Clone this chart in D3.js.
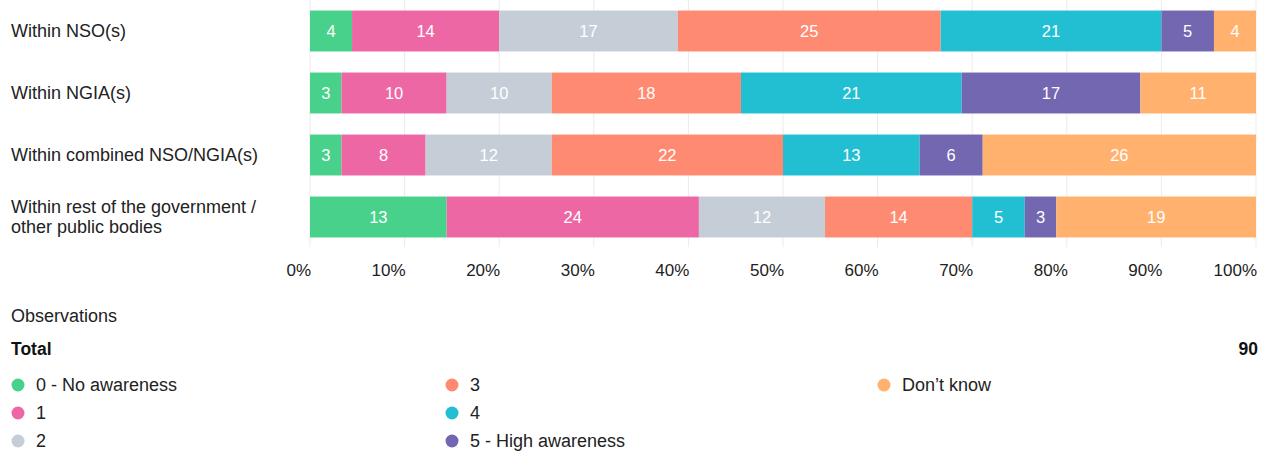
<!DOCTYPE html>
<html>
<head>
<meta charset="utf-8">
<script src="https://cdn.jsdelivr.net/npm/d3@7"></script>
<style>
  body { margin: 0; background: #fff; }
  svg { font-family: "Liberation Sans", Arial, sans-serif; }
</style>
</head>
<body>
<svg id="chart" width="1265" height="453"></svg>
<script>
const categories = [
  ["Within NSO(s)"],
  ["Within NGIA(s)"],
  ["Within combined NSO/NGIA(s)"],
  ["Within rest of the government /", "other public bodies"]
];
const seriesNames = ["0 - No awareness", "1", "2", "3", "4", "5 - High awareness", "Don\u2019t know"];
const seriesColors = ["#47d18b", "#ee67a5", "#c5ced7", "#ff8a72", "#22bfd3", "#7267b0", "#ffb16d"];
// counts per category, one array per series
const s0 = [4, 3, 3, 13];
const s1 = [14, 10, 8, 24];
const s2 = [17, 10, 12, 12];
const s3 = [25, 18, 22, 14];
const s4 = [21, 21, 13, 5];
const s5 = [5, 17, 6, 3];
const sDK = [4, 11, 26, 19];
const tickValues = [0, 0.1, 0.2, 0.3, 0.4, 0.5, 0.6, 0.7, 0.8, 0.9, 1];
const totalObs = 90;

const series = [s0, s1, s2, s3, s4, s5, sDK];
const margin = { left: 310, right: 9 };
const width = 1265;

const svg = d3.select("#chart");

const x = d3.scaleLinear().domain([0, 1]).range([margin.left, width - margin.right]);
const y = d3.scaleBand().domain(d3.range(categories.length)).range([0, 248]).paddingInner(0.34).paddingOuter(0.17);

// rows as objects keyed by series index
const rows = categories.map((c, i) => {
  const r = { i };
  series.forEach((s, k) => r[k] = s[i]);
  return r;
});
const stack = d3.stack().keys(d3.range(series.length)).offset(d3.stackOffsetExpand);
const layers = stack(rows);

// gridlines
svg.append("g")
  .selectAll("line")
  .data(tickValues)
  .join("line")
  .attr("x1", d => x(d)).attr("x2", d => x(d))
  .attr("y1", 0).attr("y2", 247)
  .attr("stroke", "#ebebeb")
  .attr("stroke-width", 1);

// axis labels
svg.append("g")
  .selectAll("text")
  .data(tickValues)
  .join("text")
  .attr("x", d => x(d) + 1)
  .attr("y", 270)
  .attr("text-anchor", "end")
  .attr("dominant-baseline", "central")
  .attr("font-size", 17)
  .attr("fill", "#222")
  .text(d3.format(".0%"));

// category labels
svg.append("g")
  .selectAll("text")
  .data(categories)
  .join("text")
  .attr("x", 11)
  .attr("y", (d, i) => y(i) + y.bandwidth() / 2)
  .attr("font-size", 18)
  .attr("fill", "#222")
  .each(function (d) {
    const t = d3.select(this);
    d.forEach((line, j) => {
      t.append("tspan")
        .attr("x", 11)
        .attr("dy", j === 0 ? `${0.35 - (d.length - 1) * 0.56}em` : "1.12em")
        .text(line);
    });
  });

// bars
const g = svg.append("g")
  .selectAll("g")
  .data(layers)
  .join("g")
  .attr("fill", (d, k) => seriesColors[k]);

g.selectAll("rect")
  .data(d => d)
  .join("rect")
  .attr("x", d => x(d[0]))
  .attr("width", d => x(d[1]) - x(d[0]))
  .attr("y", d => y(d.data.i))
  .attr("height", y.bandwidth());

g.selectAll("text")
  .data(d => d.map(v => ({ v, k: d.key })))
  .join("text")
  .attr("x", d => (x(d.v[0]) + x(d.v[1])) / 2)
  .attr("y", d => y(d.v.data.i) + y.bandwidth() / 2)
  .attr("text-anchor", "middle")
  .attr("dominant-baseline", "central")
  .attr("font-size", 16.5)
  .attr("fill", "#fff")
  .text(d => series[d.k][d.v.data.i]);

// observations block
svg.append("text")
  .attr("x", 11).attr("y", 316)
  .attr("dominant-baseline", "central")
  .attr("font-size", 18).attr("fill", "#222")
  .text("Observations");

svg.append("text")
  .attr("x", 11).attr("y", 349)
  .attr("dominant-baseline", "central")
  .attr("font-size", 17.5).attr("font-weight", "bold").attr("fill", "#111")
  .text("Total");

svg.append("text")
  .attr("x", 1258).attr("y", 349)
  .attr("text-anchor", "end")
  .attr("dominant-baseline", "central")
  .attr("font-size", 17.5).attr("font-weight", "bold").attr("fill", "#111")
  .text(totalObs);

// legend: 3 columns, 3 rows
const legendCols = [11, 445, 877];
const legend = svg.append("g")
  .selectAll("g")
  .data(seriesNames)
  .join("g")
  .attr("transform", (d, k) => `translate(${legendCols[Math.floor(k / 3)]},${385 + (k % 3) * 28})`);

legend.append("circle")
  .attr("cx", 7).attr("cy", 0).attr("r", 6.5)
  .attr("fill", (d, k) => seriesColors[k]);

legend.append("text")
  .attr("x", 25).attr("y", 0)
  .attr("dominant-baseline", "central")
  .attr("font-size", 18).attr("fill", "#222")
  .text(d => d);
</script>
</body>
</html>
